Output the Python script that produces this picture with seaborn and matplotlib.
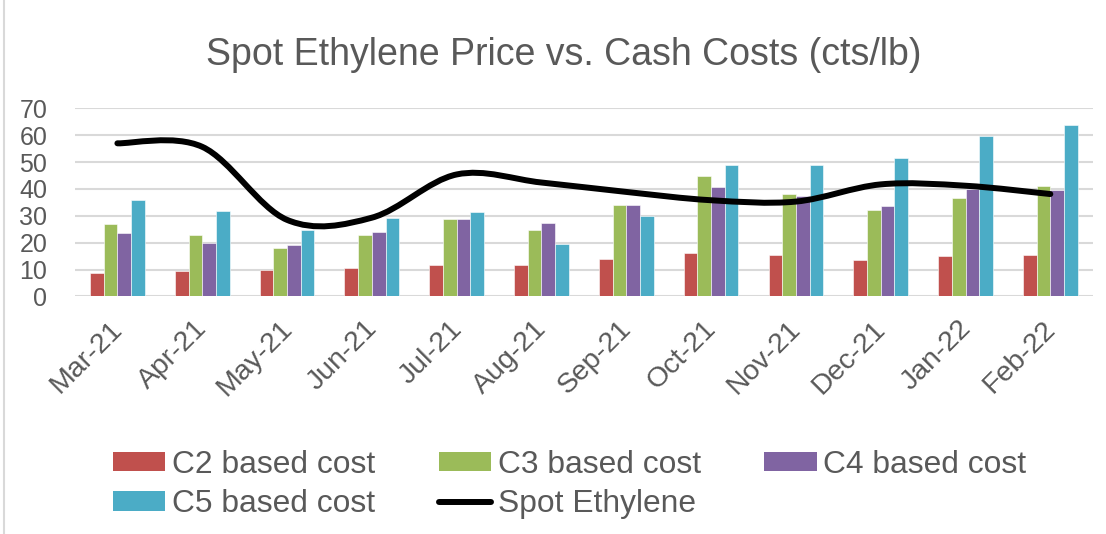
import numpy as np
import pandas as pd
import matplotlib.pyplot as plt
import matplotlib.transforms as mtransforms
import seaborn as sns
from matplotlib.path import Path
from matplotlib.patches import PathPatch, Patch
from matplotlib.lines import Line2D

# values (cts/lb)
months = ['Mar-21', 'Apr-21', 'May-21', 'Jun-21', 'Jul-21', 'Aug-21',
          'Sep-21', 'Oct-21', 'Nov-21', 'Dec-21', 'Jan-22', 'Feb-22']
c2_cost = [8.8, 9.5, 9.8, 10.4, 11.5, 11.6, 13.9, 16.2, 15.3, 13.5, 14.9, 15.4]
c3_cost = [27.0, 22.8, 18.1, 22.8, 28.7, 24.7, 34.2, 44.8, 38.2, 32.1, 36.5, 41.1]
c4_cost = [23.5, 19.7, 19.1, 24.1, 28.7, 27.3, 34.0, 40.9, 37.5, 33.6, 39.9, 39.7]
c5_cost = [35.9, 31.8, 24.9, 29.3, 31.3, 19.4, 29.8, 49.1, 48.8, 51.7, 59.9, 63.8]
spot_ethylene = [57.0, 55.7, 28.5, 29.3, 45.4, 42.4, 38.9, 35.8, 35.3, 41.7, 41.2, 38.1]

series_names = ['C2 based cost', 'C3 based cost', 'C4 based cost', 'C5 based cost']
colors = ['#C0504D', '#9BBB59', '#8064A2', '#4BACC6']
grey = '#595959'

df = pd.DataFrame({
    'Month': months * 4,
    'Series': np.repeat(series_names, len(months)),
    'Cost': c2_cost + c3_cost + c4_cost + c5_cost,
})

sns.set_theme(style='white')
plt.rcParams['font.family'] = ['Liberation Sans', 'DejaVu Sans']

fig = plt.figure(figsize=(11.06, 5.34), dpi=100)
ax = fig.add_axes([0.0678, 0.445, 0.9202, 0.352])

sns.barplot(data=df, x='Month', y='Cost', hue='Series', order=months,
            hue_order=series_names, palette=colors, width=0.645,
            edgecolor='white', linewidth=0.4, saturation=1, legend=False, ax=ax)

# smoothed spot line (Excel-style bezier through the data points)
xs = np.arange(len(months), dtype=float)
ys = np.array(spot_ethylene)
verts = [(xs[0], ys[0])]
codes = [Path.MOVETO]
n = len(xs)
for i in range(n - 1):
    p0 = np.array([xs[max(i - 1, 0)], ys[max(i - 1, 0)]])
    p1 = np.array([xs[i], ys[i]])
    p2 = np.array([xs[i + 1], ys[i + 1]])
    p3 = np.array([xs[min(i + 2, n - 1)], ys[min(i + 2, n - 1)]])
    c1 = p1 + (p2 - p0) / 6
    c2 = p2 - (p3 - p1) / 6
    verts += [tuple(c1), tuple(c2), tuple(p2)]
    codes += [Path.CURVE4] * 3
ax.add_patch(PathPatch(Path(verts, codes), fill=False, edgecolor='black',
                       linewidth=4.3, capstyle='round', joinstyle='round', zorder=5))

ax.set_ylim(0, 70)
ax.set_xlim(-0.5, len(months) - 0.5)
ax.set_yticks(range(0, 71, 10))
ax.yaxis.grid(True, color='#D9D9D9', linewidth=1.5)
ax.set_axisbelow(True)
for s in ax.spines.values():
    s.set_visible(False)
ax.set_xlabel('')
ax.set_ylabel('')
ax.tick_params(axis='y', length=0, pad=20, labelsize=18, labelcolor=grey)
ax.tick_params(axis='x', length=0, pad=14, labelsize=20.5, labelcolor=grey)
shift = mtransforms.ScaledTranslation(-8 / 100, 0, fig.dpi_scale_trans)
for lbl in ax.get_xticklabels():
    lbl.set_rotation(45)
    lbl.set_ha('right')
    lbl.set_rotation_mode('anchor')
    lbl.set_transform(lbl.get_transform() + shift)

fig.text(0.5095, 0.897, 'Spot Ethylene Price vs. Cash Costs (cts/lb)',
         ha='center', va='center', fontsize=27, color=grey)

handles = [Patch(facecolor=c, edgecolor='none') for c in colors]
line_handle = Line2D([0], [0], color='black', linewidth=4.3, solid_capstyle='round')
# reorder so the column-major legend reads row by row
order = [handles[0], handles[3], handles[1], line_handle, handles[2]]
labels = [series_names[0], series_names[3], series_names[1], 'Spot Ethylene', series_names[2]]
leg = fig.legend(order, labels, ncol=3, loc='center', bbox_to_anchor=(0.515, 0.0927),
                 frameon=False, fontsize=22.9, handlelength=1.65, handleheight=0.55,
                 handletextpad=0.2, columnspacing=2.0, labelspacing=0.3)
for t in leg.get_texts():
    t.set_color(grey)

fig.add_artist(Line2D([0.0036, 0.0036], [0, 1], transform=fig.transFigure,
                      color='#D9D9D9', linewidth=1.5))

fig.savefig('out.png', dpi=100)
